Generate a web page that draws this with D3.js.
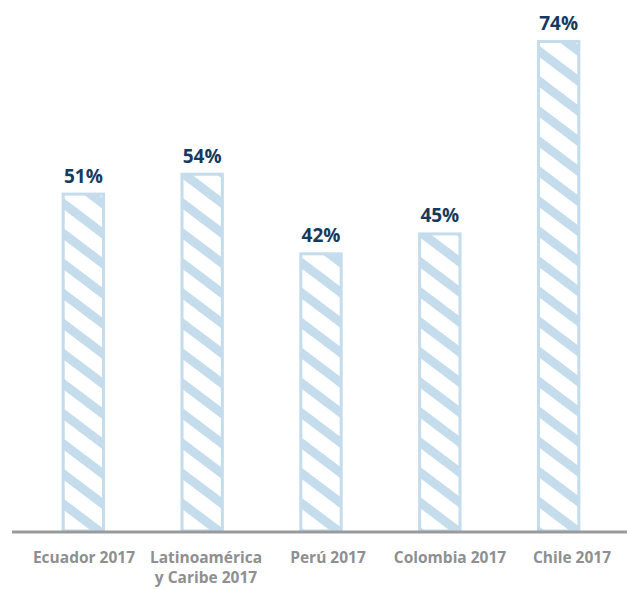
<!DOCTYPE html>
<html>
<head>
<meta charset="utf-8">
<script src="https://cdn.jsdelivr.net/npm/d3@7"></script>
<style>
  html, body { margin: 0; padding: 0; background: #fff; }
  svg { display: block; font-family: "Open Sans", "Noto Sans", sans-serif; }
</style>
</head>
<body>
<svg id="chart" width="629" height="589"></svg>
<script>
// Share per country/region, 2017 (%)
const categories = [
  ["Ecuador 2017"],
  ["Latinoamérica", "y Caribe 2017"],
  ["Perú 2017"],
  ["Colombia 2017"],
  ["Chile 2017"]
];
const values = [51, 54, 42, 45, 74];
const valueLabels = ["51%", "54%", "42%", "45%", "74%"];

const W = 629, H = 589;
const baseY = 531;
const svg = d3.select("#chart");

const x = d3.scaleBand()
  .domain(d3.range(categories.length))
  .range([24, 618])
  .paddingInner(0.635)
  .paddingOuter(0.317);

// category captions are spread a little wider than the bars
const xLabel = d3.scalePoint()
  .domain(d3.range(categories.length))
  .range([84, 572]);

const y = d3.scaleLinear().domain([0, 74]).range([baseY, 40]);

const blue = "#c4dcec";

// diagonal hatch fill
const defs = svg.append("defs");
const pat = defs.append("pattern")
  .attr("id", "hatch")
  .attr("patternUnits", "userSpaceOnUse")
  .attr("width", 40)
  .attr("height", 24)
  .attr("patternTransform", "rotate(37)");
pat.append("rect").attr("width", 40).attr("height", 24).attr("fill", "#fff");
pat.append("rect").attr("y", 0).attr("width", 40).attr("height", 9).attr("fill", blue);

svg.append("g").selectAll("rect")
  .data(values)
  .join("rect")
  .attr("x", (d, i) => x(i) + 1.5)
  .attr("y", d => y(d) + 1.5)
  .attr("width", x.bandwidth() - 3)
  .attr("height", d => baseY - y(d) - 1.5)
  .attr("fill", "url(#hatch)")
  .attr("stroke", blue)
  .attr("stroke-width", 3);

// value labels
svg.append("g").selectAll("text")
  .data(values)
  .join("text")
  .attr("x", (d, i) => x(i) + x.bandwidth() / 2)
  .attr("y", d => y(d) - 10)
  .attr("text-anchor", "middle")
  .attr("font-size", 19)
  .attr("font-weight", 700)
  .attr("fill", "#163a5f")
  .text((d, i) => valueLabels[i]);

// baseline
svg.append("line")
  .attr("x1", 12).attr("x2", 627)
  .attr("y1", baseY + 1).attr("y2", baseY + 1)
  .attr("stroke", "#999a9c")
  .attr("stroke-width", 3);

// category labels, one text element per line
const lineGap = 20;
svg.append("g").selectAll("g")
  .data(categories)
  .join("g")
  .each(function (lines, i) {
    d3.select(this).selectAll("text")
      .data(lines)
      .join("text")
      .attr("x", xLabel(i))
      .attr("y", (d, j) => 563 + j * lineGap)
      .attr("text-anchor", "middle")
      .attr("font-size", 15.5)
      .attr("font-weight", 700)
      .attr("fill", "#8e8f91")
      .text(d => d);
  });
</script>
</body>
</html>
